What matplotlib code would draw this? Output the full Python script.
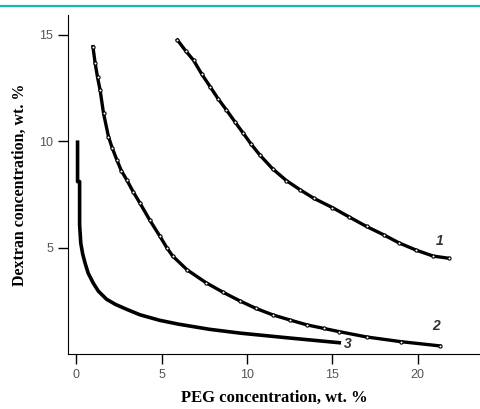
import matplotlib
matplotlib.use("Agg")
import matplotlib.pyplot as plt
from matplotlib.lines import Line2D

# curve 1
peg_1 = [5.93, 6.4, 6.87, 7.35, 7.84, 8.3, 8.8, 9.3, 9.78, 10.25, 10.75, 11.5, 12.3,
         13.1, 13.9, 15.0, 16.0, 17.0, 18.0, 18.9, 19.9, 20.9, 21.8]
dex_1 = [14.75, 14.25, 13.8, 13.15, 12.56, 12.0, 11.46, 10.9, 10.37, 9.85, 9.35, 8.7, 8.15,
         7.72, 7.32, 6.88, 6.43, 5.99, 5.6, 5.22, 4.88, 4.6, 4.5]
# curve 2
peg_2 = [0.98, 1.11, 1.25, 1.4, 1.6, 1.89, 2.1, 2.38, 2.65, 2.96, 3.35, 3.74, 4.3, 4.91,
         5.3, 5.65, 6.5, 7.6, 8.6, 9.57, 10.5, 11.5, 12.5, 13.5, 14.5, 15.4, 17.0, 19.0, 21.3]
dex_2 = [14.44, 13.66, 13.0, 12.4, 11.31, 10.21, 9.7, 9.12, 8.6, 8.18, 7.6, 7.08, 6.3, 5.52,
         5.0, 4.6, 3.95, 3.35, 2.9, 2.5, 2.15, 1.84, 1.6, 1.37, 1.2, 1.05, 0.8, 0.58, 0.38]
# curve 3
peg_3 = [0.08, 0.08, 0.2, 0.2, 0.27, 0.38, 0.52, 0.7, 1.0, 1.3, 1.78, 2.3, 2.95, 3.74, 4.9,
         6.0, 7.8, 9.6, 12.5, 15.4]
dex_3 = [9.95, 8.1, 8.1, 6.07, 5.2, 4.7, 4.27, 3.8, 3.33, 2.95, 2.57, 2.33, 2.1, 1.84, 1.58,
         1.4, 1.16, 0.98, 0.75, 0.53]

labels = ["1", "2", "3"]
label_pos = [(21.3, 5.3), (21.1, 1.3), (15.9, 0.45)]

xticks = [0, 5, 10, 15, 20]
yticks = [5, 10, 15]

fig = plt.figure(figsize=(4.81, 4.09), dpi=100)
ax = fig.add_axes([0.141, 0.1345, 0.859, 0.8285])

ax.plot(peg_1, dex_1, color="black", lw=2.4, marker="o", ms=2.3, mfc="white", mec="black", mew=0.8)
ax.plot(peg_2, dex_2, color="black", lw=2.4, marker="o", ms=2.3, mfc="white", mec="black", mew=0.8)
ax.plot(peg_3, dex_3, color="black", lw=2.6)

for txt, (lx, ly) in zip(labels, label_pos):
    ax.text(lx, ly, txt, fontsize=10, fontweight="bold", style="italic",
            family="Liberation Sans", color="#333333", ha="center", va="center")

ax.set_xlim(-0.49, 23.7)
ax.set_ylim(0, 15.92)
ax.set_xticks(xticks)
ax.set_yticks(yticks)
ax.spines["top"].set_visible(False)
ax.spines["right"].set_visible(False)
ax.tick_params(direction="out", length=7, width=1, colors="black", labelcolor="#555555",
               labelsize=9)
for lab in ax.get_xticklabels() + ax.get_yticklabels():
    lab.set_family("Liberation Sans")

ax.set_xlabel("PEG concentration, wt. %", family="Liberation Serif", fontweight="bold",
              fontsize=12, labelpad=7)
ax.set_ylabel("Dextran concentration, wt. %", family="Liberation Serif", fontweight="bold",
              fontsize=11.4, labelpad=8)

# teal rule across the top
fig.add_artist(Line2D([0, 1], [0.986, 0.986], transform=fig.transFigure,
                      color="#1bb8a7", lw=1.6))

fig.savefig("out.png", dpi=100)
